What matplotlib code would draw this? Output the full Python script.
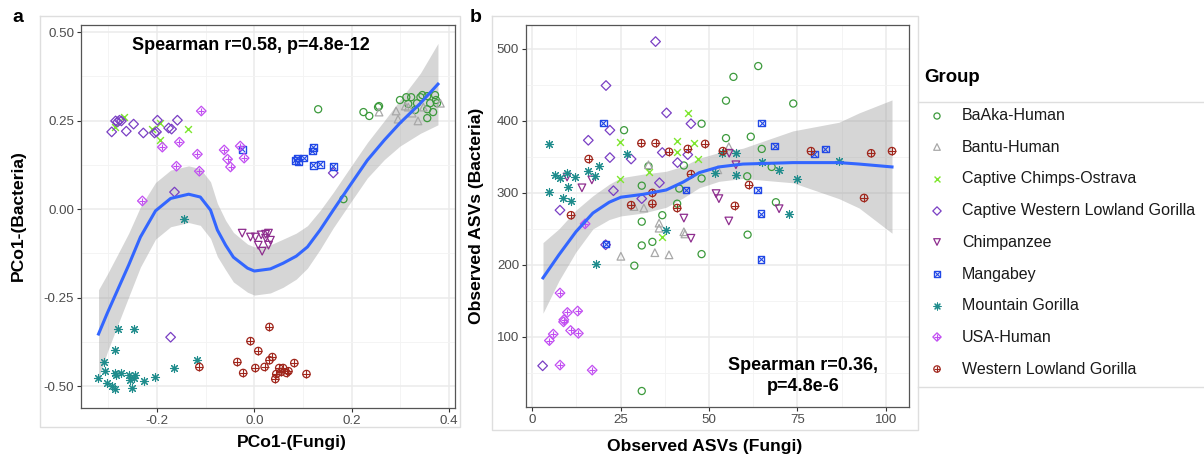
import matplotlib.pyplot as plt
from matplotlib.ticker import AutoMinorLocator

plt.rcParams['font.family'] = ['Liberation Sans', 'DejaVu Sans']

# ---- groups / colours ----
groups = ['BaAka-Human', 'Bantu-Human', 'Captive Chimps-Ostrava',
          'Captive Western Lowland Gorilla', 'Chimpanzee', 'Mangabey',
          'Mountain Gorilla', 'USA-Human', 'Western Lowland Gorilla']
colors = ['#3C9A3C', '#A8A8A8', '#7EE62E', '#7A3FC4', '#8E2D8E',
          '#2148E6', '#1F8C8C', '#C24EF2', '#A0261C']

# ---- panel a : PCo1 fungi vs PCo1 bacteria ----
baaka_a_x = [0.131, 0.224, 0.236, 0.254, 0.256, 0.299, 0.312, 0.322, 0.341, 0.345, 0.355,
             0.371, 0.373, 0.361, 0.375, 0.355, 0.367, 0.355, 0.330, 0.316, 0.334, 0.183]
baaka_a_y = [0.282, 0.274, 0.263, 0.288, 0.291, 0.308, 0.316, 0.316, 0.316, 0.322, 0.319,
             0.322, 0.308, 0.299, 0.299, 0.282, 0.274, 0.257, 0.280, 0.297, 0.299, 0.028]
bantu_a_x = [0.256, 0.291, 0.295, 0.310, 0.324, 0.336, 0.347, 0.382, 0.316]
bantu_a_y = [0.274, 0.277, 0.254, 0.291, 0.271, 0.249, 0.288, 0.299, 0.288]
ostrava_a_x = [-0.267, -0.287, -0.193, -0.193, -0.137, -0.210]
ostrava_a_y = [0.260, 0.232, 0.243, 0.195, 0.226, 0.225]
cwlg_a_x = [-0.293, -0.285, -0.281, -0.277, -0.273, -0.263, -0.248, -0.228, -0.205,
            -0.201, -0.199, -0.176, -0.170, -0.158, -0.164, 0.162, -0.172]
cwlg_a_y = [0.218, 0.249, 0.246, 0.251, 0.249, 0.220, 0.240, 0.215, 0.215,
            0.218, 0.251, 0.229, 0.226, 0.251, 0.048, 0.102, -0.362]
chimp_a_x = [-0.025, -0.008, 0.002, 0.014, 0.023, 0.029, 0.033, 0.008, 0.016, 0.029, 0.023]
chimp_a_y = [-0.068, -0.079, -0.079, -0.073, -0.071, -0.068, -0.088, -0.102, -0.119, -0.102, -0.082]
mangabey_a_x = [-0.025, 0.084, 0.088, 0.090, 0.101, 0.121, 0.119, 0.121, 0.135, 0.162]
mangabey_a_y = [0.169, 0.138, 0.144, 0.133, 0.144, 0.175, 0.164, 0.124, 0.127, 0.121]
mountain_a_x = [-0.281, -0.248, -0.287, -0.308, -0.306, -0.322, -0.287, -0.273, -0.293, -0.287,
                -0.256, -0.252, -0.246, -0.226, -0.205, -0.166, -0.117, -0.258, -0.248, -0.285,
                -0.144, -0.302]
mountain_a_y = [-0.339, -0.339, -0.398, -0.432, -0.458, -0.477, -0.463, -0.463, -0.500, -0.508,
                -0.483, -0.506, -0.469, -0.486, -0.475, -0.449, -0.427, -0.469, -0.477, -0.469,
                -0.028, -0.492]
usa_a_x = [-0.109, -0.189, -0.154, -0.117, -0.160, -0.113, -0.062, -0.055, -0.049, -0.029, -0.021, -0.230]
usa_a_y = [0.277, 0.175, 0.189, 0.155, 0.121, 0.107, 0.167, 0.141, 0.119, 0.178, 0.144, 0.023]
wlg_a_x = [-0.113, 0.031, -0.008, 0.008, 0.037, 0.031, -0.035, -0.023, 0.002, 0.021,
           0.051, 0.059, 0.055, 0.070, 0.066, 0.082, 0.045, 0.043, 0.107]
wlg_a_y = [-0.446, -0.333, -0.373, -0.401, -0.418, -0.427, -0.432, -0.463, -0.449, -0.446,
           -0.449, -0.449, -0.460, -0.458, -0.463, -0.435, -0.466, -0.480, -0.466]

# loess fit + band
fit_a_x = [-0.320, -0.302, -0.281, -0.258, -0.234, -0.203, -0.172, -0.135, -0.111, -0.090,
           -0.076, -0.059, -0.043, -0.014, 0.000, 0.033, 0.059, 0.086, 0.109, 0.135,
           0.162, 0.197, 0.232, 0.267, 0.299, 0.341, 0.377]
fit_a_y = [-0.353, -0.294, -0.229, -0.158, -0.079, -0.005, 0.030, 0.042, 0.034, -0.003,
           -0.059, -0.102, -0.136, -0.167, -0.175, -0.169, -0.153, -0.133, -0.107, -0.059,
           -0.003, 0.068, 0.138, 0.195, 0.243, 0.299, 0.353]
fit_a_se = [0.125, 0.11, 0.10, 0.09, 0.085, 0.08, 0.08, 0.08, 0.08, 0.08,
            0.075, 0.07, 0.07, 0.068, 0.068, 0.068, 0.068, 0.065, 0.06, 0.055,
            0.05, 0.05, 0.05, 0.055, 0.065, 0.085, 0.115]

# ---- panel b : observed ASVs fungi vs bacteria ----
baaka_b_x = [63.9, 56.9, 54.8, 73.8, 47.9, 26.0, 54.8, 61.8, 64.9, 42.9, 47.9, 60.8, 67.7,
             32.9, 31.0, 41.6, 68.9, 31.0, 36.8, 60.9, 31.0, 34.0, 28.9, 47.9, 31.0, 41.0]
baaka_b_y = [476, 461, 428, 424, 396, 387, 376, 378, 361, 338, 320, 323, 336,
             337, 310, 306, 287, 260, 269, 242, 227, 232, 199, 215, 25, 285]
bantu_b_x = [55.6, 52.5, 32.9, 28.8, 31.6, 35.9, 35.9, 42.9, 25.1, 34.7, 38.7, 43.2]
bantu_b_y = [364, 332, 339, 281, 279, 258, 251, 246, 212, 217, 214, 243]
ostrava_b_x = [44.0, 24.9, 41.0, 45.8, 41.0, 46.9, 24.9, 33.0, 36.7]
ostrava_b_y = [411, 371, 372, 369, 357, 347, 319, 329, 239]
cwlg_b_x = [34.9, 20.9, 38.0, 44.9, 22.0, 15.9, 22.0, 28.0, 36.8, 41.1, 44.0, 36.0, 23.0,
            31.0, 7.9, 20.8, 3.0]
cwlg_b_y = [510, 449, 411, 396, 387, 373, 349, 347, 356, 342, 353, 314, 303,
            292, 276, 228, 60]
chimp_b_x = [9.9, 14.1, 16.9, 57.6, 52.0, 52.8, 69.8, 55.6, 42.9, 44.9, 55.7]
chimp_b_y = [322, 307, 318, 339, 299, 292, 278, 261, 265, 237, 355]
mangabey_b_x = [20.1, 64.9, 68.6, 79.7, 82.8, 43.5, 63.8, 64.7, 20.9, 64.7]
mangabey_b_y = [397, 397, 365, 354, 361, 304, 304, 271, 229, 208]
mountain_b_x = [4.9, 4.8, 6.5, 7.9, 10.0, 12.1, 10.2, 8.8, 11.0, 15.8, 17.8, 18.8, 26.9,
                37.9, 18.0, 51.7, 53.8, 57.6, 57.6, 65.0, 69.8, 74.9, 72.6, 86.7]
mountain_b_y = [368, 301, 325, 321, 327, 322, 308, 293, 289, 331, 323, 337, 354,
                249, 201, 328, 355, 355, 325, 343, 332, 319, 270, 344]
usa_b_x = [7.9, 10.0, 12.9, 9.0, 8.9, 10.9, 13.1, 6.0, 4.9, 7.9, 17.0, 15.0]
usa_b_y = [161, 134, 136, 124, 121, 109, 105, 104, 95, 61, 54, 257]
wlg_b_x = [16.0, 11.0, 30.9, 34.9, 38.7, 44.0, 48.9, 53.9, 44.9, 34.0, 34.0, 28.0, 41.0,
           61.3, 57.3, 78.8, 95.8, 101.7, 93.8]
wlg_b_y = [347, 269, 369, 369, 357, 361, 368, 358, 326, 300, 285, 283, 279,
           311, 282, 358, 355, 358, 293]

fit_b_x = [3.1, 7.6, 12.4, 17.2, 21.8, 25.1, 31.4, 37.9, 42.7, 47.2, 52.8, 59.6, 73.7, 86.7, 92.4, 101.7]
fit_b_y = [182, 214, 246, 272, 287, 294, 298, 304, 315, 328, 336, 340, 342, 342, 340, 336]
fit_b_lo = [133, 178, 218, 250, 263, 268, 272, 280, 293, 307, 316, 320, 314, 292, 279, 244]
fit_b_hi = [231, 250, 276, 296, 312, 321, 326, 330, 337, 348, 356, 362, 386, 398, 411, 429]

data_a = [(baaka_a_x, baaka_a_y), (bantu_a_x, bantu_a_y), (ostrava_a_x, ostrava_a_y),
          (cwlg_a_x, cwlg_a_y), (chimp_a_x, chimp_a_y), (mangabey_a_x, mangabey_a_y),
          (mountain_a_x, mountain_a_y), (usa_a_x, usa_a_y), (wlg_a_x, wlg_a_y)]
data_b = [(baaka_b_x, baaka_b_y), (bantu_b_x, bantu_b_y), (ostrava_b_x, ostrava_b_y),
          (cwlg_b_x, cwlg_b_y), (chimp_b_x, chimp_b_y), (mangabey_b_x, mangabey_b_y),
          (mountain_b_x, mountain_b_y), (usa_b_x, usa_b_y), (wlg_b_x, wlg_b_y)]

# marker layers per group (ggplot shapes 1,2,4,5,6,7,8,9,10)
shapes = [
    [('o', 26, 0.9)],
    [('^', 30, 0.9)],
    [('x', 24, 1.0)],
    [('D', 24, 0.9)],
    [('v', 30, 0.9)],
    [('s', 24, 1.0), ('x', 14, 0.8)],
    [((8, 2, 0), 34, 0.8)],
    [('D', 24, 0.9), ('+', 24, 0.8)],
    [('o', 28, 0.9), ('+', 28, 0.8)],
]
line_markers = ('x', '+')


def draw_points(ax, x, y, layers, col, scale=1.0, z=3):
    for m, s, lw in layers:
        if m in line_markers or isinstance(m, tuple):
            ax.scatter(x, y, marker=m, s=s * scale, c=col, linewidths=lw, zorder=z)
        else:
            ax.scatter(x, y, marker=m, s=s * scale, facecolors='none',
                       edgecolors=col, linewidths=lw, zorder=z)


def style_axes(ax):
    ax.set_facecolor('white')
    ax.set_axisbelow(True)
    ax.xaxis.set_minor_locator(AutoMinorLocator(2))
    ax.yaxis.set_minor_locator(AutoMinorLocator(2))
    ax.grid(which='major', color='#EBEBEB', lw=1.1)
    ax.grid(which='minor', color='#F3F3F3', lw=0.6)
    for sp in ax.spines.values():
        sp.set_color('#555555')
        sp.set_linewidth(0.9)
    ax.tick_params(which='major', length=3, width=0.8, color='#333333',
                   labelcolor='#4D4D4D', labelsize=9.6, pad=2)
    ax.tick_params(which='minor', length=0)


W, H = 1204, 462
fig = plt.figure(figsize=(W / 100, H / 100), dpi=100)

# background overlay in pixel coordinates (panel boxes, tags, legend)
bg = fig.add_axes([0, 0, 1, 1], zorder=-1)
bg.set_xlim(0, W)
bg.set_ylim(H, 0)
bg.axis('off')
box = '#DEDEDE'
bg.plot([40, 460, 460, 40, 40], [16, 16, 427, 427, 16], color=box, lw=1)
bg.plot([492, 918, 918, 492, 492], [16, 16, 430, 430, 16], color=box, lw=1)
bg.plot([918, 1204], [102, 102], color=box, lw=1)
bg.plot([918, 1204], [387, 387], color=box, lw=1)
bg.text(12, 17, 'a', fontsize=14, fontweight='bold', va='center', ha='left')
bg.text(470, 17, 'b', fontsize=14, fontweight='bold', va='center', ha='left')
bg.text(18, 216, 'PCo1-(Bacteria)', rotation=90, fontsize=12.6, fontweight='bold',
        ha='center', va='center')
bg.text(292, 443, 'PCo1-(Fungi)', fontsize=12.6, fontweight='bold', ha='center', va='center')
bg.text(476, 216, 'Observed ASVs (Bacteria)', rotation=90, fontsize=12.6,
        fontweight='bold', ha='center', va='center')
bg.text(705, 447, 'Observed ASVs (Fungi)', fontsize=12.6, fontweight='bold',
        ha='center', va='center')

# legend
bg.text(924, 78, 'Group', fontsize=13.4, fontweight='bold', ha='left', va='center')
leg_y = [116, 147, 179, 211, 242, 274, 306, 337, 369]
for g, col, layers, ly in zip(groups, colors, shapes, leg_y):
    draw_points(bg, [937], [ly], layers, col, scale=0.75)
    bg.text(962, ly, g, fontsize=11.5, color='#1A1A1A', ha='left', va='center')

# ---- panel a ----
ax1 = fig.add_axes([81 / W, 1 - 408 / H, (455 - 81) / W, (408 - 25) / H])
style_axes(ax1)
lo_a = [f - s for f, s in zip(fit_a_y, fit_a_se)]
hi_a = [f + s for f, s in zip(fit_a_y, fit_a_se)]
ax1.fill_between(fit_a_x, lo_a, hi_a, color='#999999', alpha=0.4, lw=0, zorder=2)
for (x, y), col, layers in zip(data_a, colors, shapes):
    draw_points(ax1, x, y, layers, col)
ax1.plot(fit_a_x, fit_a_y, color='#3366FF', lw=2.2, zorder=4)
ax1.set_xlim(-0.356, 0.412)
ax1.set_ylim(-0.562, 0.52)
ax1.set_xticks([-0.2, 0.0, 0.2, 0.4])
ax1.set_xticklabels(['-0.2', '0.0', '0.2', '0.4'])
ax1.set_yticks([-0.5, -0.25, 0.0, 0.25, 0.5])
ax1.set_yticklabels(['-0.50', '-0.25', '0.00', '0.25', '0.50'])
ax1.text(-0.008, 0.463, 'Spearman r=0.58, p=4.8e-12', fontsize=13, fontweight='bold',
         ha='center', va='center', zorder=5)

# ---- panel b ----
ax2 = fig.add_axes([526 / W, 1 - 407 / H, (909 - 526) / W, (407 - 25) / H])
style_axes(ax2)
ax2.fill_between(fit_b_x, fit_b_lo, fit_b_hi, color='#999999', alpha=0.4, lw=0, zorder=2)
for (x, y), col, layers in zip(data_b, colors, shapes):
    draw_points(ax2, x, y, layers, col)
ax2.plot(fit_b_x, fit_b_y, color='#3366FF', lw=2.2, zorder=4)
ax2.set_xlim(-1.7, 106.5)
ax2.set_ylim(2.8, 533)
ax2.set_xticks([0, 25, 50, 75, 100])
ax2.set_yticks([100, 200, 300, 400, 500])
ax2.text(76.6, 46, 'Spearman r=0.36,\np=4.8e-6', fontsize=13, fontweight='bold',
         ha='center', va='center', linespacing=1.25, zorder=5)

fig.savefig('out.png', dpi=100)
